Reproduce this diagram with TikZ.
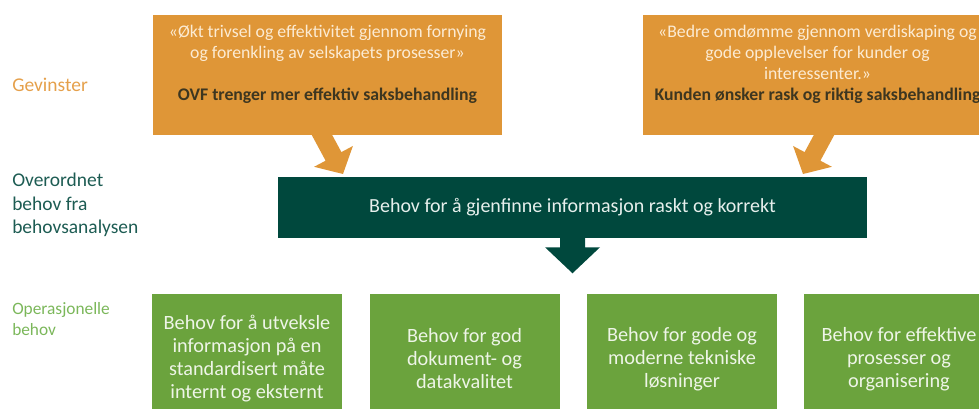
\documentclass[tikz,border=0pt]{standalone}
\usepackage{fontspec}
\setmainfont{Carlito}
\usetikzlibrary{calc}
\definecolor{gainfill}{HTML}{DF9637}
\definecolor{gainquote}{HTML}{FCEBD3}
\definecolor{gainbold}{HTML}{3D3620}
\definecolor{corefill}{HTML}{00483D}
\definecolor{coretext}{HTML}{E6EFEC}
\definecolor{opfill}{HTML}{6BA33D}
\definecolor{optext}{HTML}{EEF5E7}
\definecolor{gainlabel}{HTML}{E5A04B}
\definecolor{corelabel}{HTML}{1D5C53}
\definecolor{oplabel}{HTML}{7BB75A}
\begin{document}
\begin{tikzpicture}[x=0.75pt,y=-0.75pt,
  gainbox/.style={fill=gainfill, draw=none, minimum width=261.75pt, minimum height=90pt, inner sep=0pt},
  gaintext/.style={anchor=north, align=center, inner sep=0pt, text=gainquote,
    font=\fontsize{13.3pt}{15.75pt}\selectfont},
  corebox/.style={fill=corefill, draw=none, minimum width=441.75pt, minimum height=45.75pt,
    inner sep=0pt, text=coretext, font=\fontsize{15pt}{17pt}\selectfont},
  opbox/.style={fill=opfill, draw=none, minimum width=142.5pt, minimum height=97.5pt,
    inner sep=0pt, align=center, text=optext, font=\fontsize{15.2pt}{17.25pt}\selectfont},
  rowlabel/.style={anchor=west, align=left, inner sep=0pt},
  gainarrow/.style={fill=gainfill, draw=none},
  corearrow/.style={fill=corefill, draw=none}]
\clip (0,0) rectangle (979,409);

% row labels
\node[rowlabel, text=gainlabel, font=\fontsize{14.6pt}{17pt}\selectfont] (lgain) at (12,85) {Gevinster};
\node[rowlabel, text=corelabel, font=\fontsize{14.6pt}{17.6pt}\selectfont] (lcore) at (12,205)
  {Overordnet\\behov fra\\behovsanalysen};
\node[rowlabel, text=oplabel, font=\fontsize{13pt}{15.75pt}\selectfont] (lop) at (12,319.5)
  {Operasjonelle\\behov};

% tilted arrows from the gain boxes down to the core need
\fill[gainarrow] (309.0,129.9) -- (324.8,121.3) -- (341.4,152.1) -- (352.9,146.0)
  -- (343,174) -- (314.1,166.8) -- (325.6,160.7) -- cycle;
\fill[gainarrow] (837.0,129.9) -- (821.2,121.3) -- (804.6,152.1) -- (793.1,146.0)
  -- (803,174) -- (831.9,166.8) -- (820.4,160.7) -- cycle;

% gain boxes
\node[gainbox] (gain1) at (327.5,75) {};
\node[gaintext] (gain1t) at ($(gain1.north)+(0,10.5)$)
  {«Økt trivsel og effektivitet gjennom fornying\\og forenkling av selskapets prosesser»\\[15.75pt]
   \textcolor{gainbold}{\bfseries OVF trenger mer effektiv saksbehandling}};
\node[gainbox] (gain2) at (817.5,75) {};
\node[gaintext] (gain2t) at ($(gain2.north)+(0,10.5)$)
  {«Bedre omdømme gjennom verdiskaping og\\gode opplevelser for kunder og\\interessenter.»\\
   \textcolor{gainbold}{\bfseries Kunden ønsker rask og riktig saksbehandling}};

% core need and its arrow down to the operational needs
\node[corebox] (core) at (572.5,207.5) {Behov for å gjenfinne informasjon raskt og korrekt};
\fill[corearrow] ($(core.south)+(-12.5,-8)$) -- ($(core.south)+(12.5,-8)$)
  -- ($(core.south)+(12.5,9)$) -- ($(core.south)+(27.5,9)$) -- ($(core.south)+(0,35)$)
  -- ($(core.south)+(-27.5,9)$) -- ($(core.south)+(-12.5,9)$) -- cycle;

% operational needs
\node[opbox] (op1) at (247,359) {Behov for å utveksle\\informasjon på en\\standardisert måte\\internt og eksternt};
\node[opbox] (op2) at (464.5,359) {Behov for god\\dokument- og\\datakvalitet};
\node[opbox] (op3) at (682,359) {Behov for gode og\\moderne tekniske\\løsninger};
\node[opbox] (op4) at (899,359) {Behov for effektive\\prosesser og\\organisering};
\end{tikzpicture}
\end{document}
